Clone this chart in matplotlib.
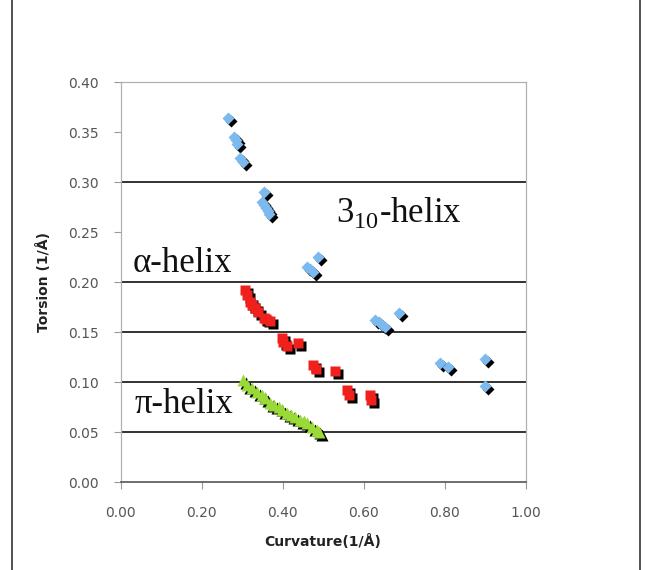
import matplotlib
matplotlib.use('Agg')
import matplotlib.pyplot as plt
from matplotlib.transforms import offset_copy
from matplotlib.lines import Line2D

plt.rcParams['mathtext.fontset'] = 'custom'
plt.rcParams['mathtext.rm'] = 'Liberation Serif'

# 3_10-helix points (curvature, torsion)
helix310_k = [0.266, 0.279, 0.284, 0.287, 0.295, 0.302, 0.353, 0.349, 0.353, 0.358,
              0.363, 0.367, 0.488, 0.460, 0.468, 0.476, 0.628, 0.637, 0.645, 0.653,
              0.688, 0.789, 0.809, 0.900, 0.900]
helix310_t = [0.364, 0.345, 0.342, 0.338, 0.324, 0.320, 0.290, 0.280, 0.277, 0.274,
              0.271, 0.268, 0.225, 0.215, 0.213, 0.210, 0.162, 0.160, 0.157, 0.155,
              0.169, 0.119, 0.115, 0.123, 0.096]

# alpha-helix points
alpha_k = [0.307, 0.312, 0.320, 0.324, 0.332, 0.340, 0.353, 0.360,
           0.368, 0.398, 0.402, 0.410, 0.439, 0.474, 0.482, 0.530,
           0.558, 0.563, 0.616, 0.618]
alpha_t = [0.192, 0.187, 0.180, 0.177, 0.174, 0.170, 0.164, 0.163,
           0.161, 0.144, 0.140, 0.136, 0.139, 0.117, 0.113, 0.111,
           0.092, 0.087, 0.087, 0.082]

# pi-helix points
pi_k = [0.303, 0.312, 0.324, 0.336, 0.349, 0.357, 0.369,
        0.380, 0.390, 0.398, 0.410, 0.420, 0.431, 0.443, 0.452, 0.460,
        0.472, 0.484, 0.490]
pi_t = [0.102, 0.097, 0.094, 0.090, 0.087, 0.084, 0.079,
        0.077, 0.075, 0.072, 0.069, 0.067, 0.065, 0.062, 0.061, 0.059,
        0.055, 0.052, 0.050]

x_ticks = [0.0, 0.2, 0.4, 0.6, 0.8, 1.0]
y_ticks = [0.0, 0.05, 0.10, 0.15, 0.20, 0.25, 0.30, 0.35, 0.40]
hlines = [0.05, 0.10, 0.15, 0.20, 0.30]

fig = plt.figure(figsize=(6.52, 5.70), dpi=100)
ax = fig.add_axes([0.185, 0.154, 0.621, 0.702])

for y in hlines:
    ax.axhline(y, color='#222222', lw=1.3, zorder=1)

shadow = offset_copy(ax.transData, fig=fig, x=3, y=-3, units='dots')
series = [
    (helix310_k, helix310_t, 'D', 6.0, '#7cb9ee'),
    (alpha_k, alpha_t, 's', 6.8, '#f0201c'),
    (pi_k, pi_t, '^', 8.0, '#9ada38'),
]
for k, t, m, ms, c in series:
    ax.plot(k, t, ls='none', marker=m, ms=ms, color='black', mec='none',
            transform=shadow, zorder=2)
    ax.plot(k, t, ls='none', marker=m, ms=ms, color=c, mec='none', zorder=3)

ax.set_xlim(0, 1.0)
ax.set_ylim(0, 0.40)
ax.set_xticks(x_ticks)
ax.set_yticks(y_ticks)
ax.set_xticklabels([f'{v:.2f}' for v in x_ticks])
ax.set_yticklabels([f'{v:.2f}' for v in y_ticks])
ax.tick_params(axis='both', colors='#999999', labelcolor='#555555',
               labelsize=10, length=5, direction='out')
ax.tick_params(axis='y', pad=11)
ax.tick_params(axis='x', pad=12)
for s in ['left', 'top', 'right']:
    ax.spines[s].set_color('#b0b0b0')
    ax.spines[s].set_linewidth(0.9)
ax.spines['bottom'].set_color('#555555')
ax.spines['bottom'].set_linewidth(1.2)

lab_font = dict(family='DejaVu Sans', fontsize=10, fontweight='bold', color='#222222')
ax.set_xlabel('Curvature(1/Å)', labelpad=10, **lab_font)
ax.set_ylabel('Torsion (1/Å)', labelpad=12, **lab_font)

txt_font = dict(family='Liberation Serif', fontsize=25, color='#111111')
ax.text(0.532, 0.260, '3$_{\\mathrm{10}}$-helix', ha='left', va='baseline', **txt_font)
ax.text(0.030, 0.210, 'α-helix', ha='left', va='baseline', **txt_font)
ax.text(0.035, 0.069, 'π-helix', ha='left', va='baseline', **txt_font)

# outer frame lines of the figure panel
fig.add_artist(Line2D([12 / 652, 12 / 652], [0, 1], color='#333333', lw=1.2))
fig.add_artist(Line2D([640 / 652, 640 / 652], [0, 1], color='#333333', lw=1.2))

fig.savefig('out.png', dpi=100)
